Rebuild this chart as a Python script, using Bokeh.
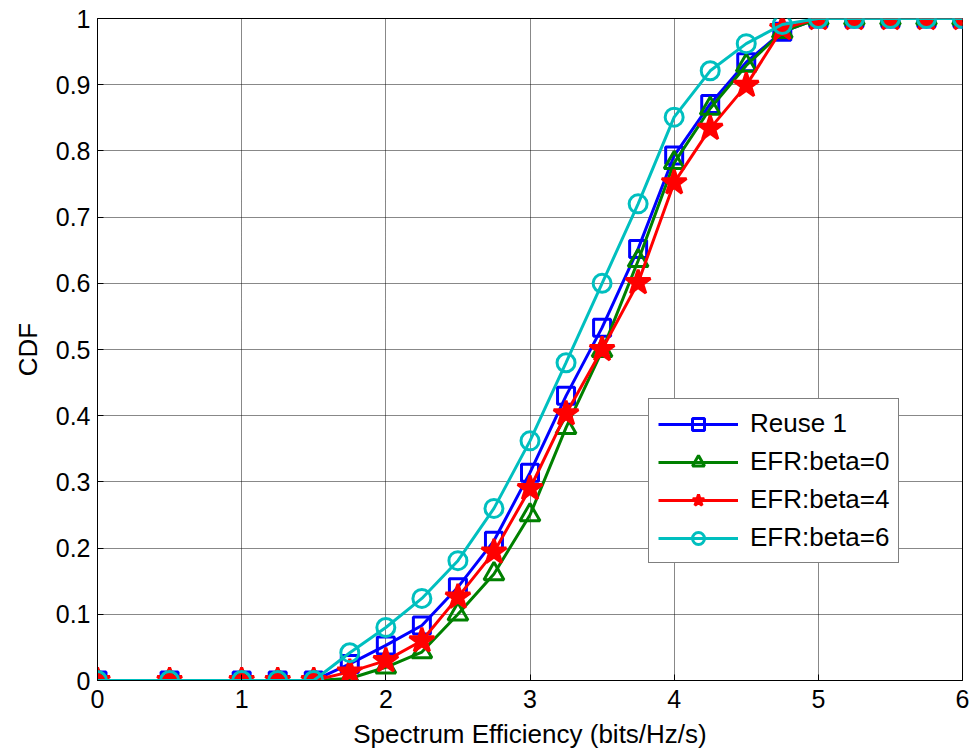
from bokeh.plotting import figure
from bokeh.models import Range1d, FixedTicker, Legend
from bokeh.embed import file_html
from bokeh.resources import INLINE

x = [0, 0.5, 1, 1.25, 1.5, 1.75, 2, 2.25, 2.5, 2.75, 3, 3.25, 3.5, 3.75,
     4, 4.25, 4.5, 4.75, 5, 5.25, 5.5, 5.75, 6]
reuse1 = [0, 0, 0, 0, 0, 0.025, 0.053, 0.083, 0.141, 0.211, 0.314, 0.43, 0.533, 0.652,
          0.793, 0.871, 0.934, 0.98, 1, 1, 1, 1, 1]
beta0 = [0, 0, 0, 0, 0, 0.003, 0.02, 0.043, 0.10, 0.161, 0.25, 0.382, 0.498, 0.634,
         0.782, 0.864, 0.929, 0.98, 1, 1, 1, 1, 1]
beta4 = [0, 0, 0, 0, 0, 0.013, 0.03, 0.06, 0.126, 0.194, 0.29, 0.403, 0.50, 0.601,
         0.752, 0.834, 0.899, 0.985, 1, 1, 1, 1, 1]
beta6 = [0, 0, 0, 0, 0, 0.042, 0.08, 0.124, 0.181, 0.26, 0.362, 0.48, 0.60, 0.72,
         0.851, 0.921, 0.962, 0.991, 1, 1, 1, 1, 1]
labels = ["Reuse 1", "EFR:beta=0", "EFR:beta=4", "EFR:beta=6"]
xticks = [0, 1, 2, 3, 4, 5, 6]
yticks = [0, 0.1, 0.2, 0.3, 0.4, 0.5, 0.6, 0.7, 0.8, 0.9, 1]

FONT = "Liberation Sans"

p = figure(width=975, height=751, output_backend="svg", toolbar_location=None,
           x_range=Range1d(0, 6), y_range=Range1d(0, 1),
           frame_width=865, frame_height=662,
           min_border_left=97, min_border_right=13, min_border_top=18, min_border_bottom=71)
p.background_fill_color = "white"
p.border_fill_color = "white"
p.outline_line_color = "black"
p.outline_line_width = 1

for ax in (p.xaxis[0], p.yaxis[0]):
    ax.major_tick_in = 6
    ax.major_tick_out = 0
    ax.minor_tick_in = 0
    ax.minor_tick_out = 0
    ax.major_label_text_font = FONT
    ax.major_label_text_font_size = "25px"
    ax.major_label_text_color = "black"
    ax.axis_label_text_font = FONT
    ax.axis_label_text_font_size = "26px"
    ax.axis_label_text_font_style = "normal"
    ax.axis_label_text_color = "black"
    ax.axis_line_color = "black"
    ax.major_tick_line_color = "black"

p.xaxis[0].ticker = FixedTicker(ticks=xticks)
p.yaxis[0].ticker = FixedTicker(ticks=yticks)
p.yaxis[0].major_label_overrides = {0: "0", 1: "1"}
p.xaxis[0].axis_label = "Spectrum Efficiency (bits/Hz/s)"
p.yaxis[0].axis_label = "CDF"
p.xaxis[0].major_label_standoff = 9
p.yaxis[0].major_label_standoff = 7
p.xaxis[0].axis_label_standoff = 8
p.yaxis[0].axis_label_standoff = 10

for g in (p.xgrid[0], p.ygrid[0]):
    g.grid_line_color = "#111111"
    g.grid_line_dash = "1 1"
    g.grid_line_width = 1
    g.grid_line_alpha = 1.0
p.xgrid[0].ticker = FixedTicker(ticks=xticks)
p.ygrid[0].ticker = FixedTicker(ticks=yticks)

series = [
    (reuse1, "#0000FF", "square", 17, None),
    (beta0, "#008000", "triangle", 20, None),
    (beta4, "#FF0000", "star", 26, "#FF0000"),
    (beta6, "#00BFBF", "circle", 18, None),
]
items = []
for (ys, col, mk, sz, fill), lab in zip(series, labels):
    r1 = p.line(x, ys, line_color=col, line_width=3)
    r2 = p.scatter(x, ys, marker=mk, size=sz, line_color=col, line_width=3,
                   fill_color=fill, fill_alpha=1 if fill else 0)
    items.append((lab, [r1, r2]))

legend = Legend(items=items, location=(551, 117))
legend.label_text_font = FONT
legend.label_text_font_size = "26px"
legend.label_text_color = "black"
legend.glyph_width = 80
legend.glyph_height = 30
legend.label_height = 30
legend.label_standoff = 12
legend.spacing = 7
legend.padding = 9
legend.margin = 0
legend.border_line_color = "black"
legend.border_line_width = 1.5
legend.background_fill_alpha = 1
p.add_layout(legend, "center")

open("out.html", "w").write(file_html(p, INLINE))
